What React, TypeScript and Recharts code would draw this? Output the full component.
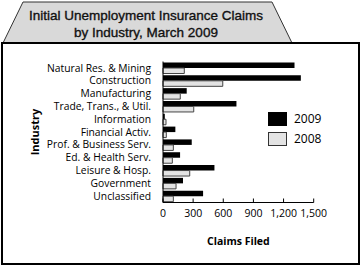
import React from "react";
import { BarChart, Bar, XAxis, YAxis, Label } from "recharts";

const categories = [
  "Natural Res. & Mining",
  "Construction",
  "Manufacturing",
  "Trade, Trans., & Util.",
  "Information",
  "Financial Activ.",
  "Prof. & Business Serv.",
  "Ed. & Health Serv.",
  "Leisure & Hosp.",
  "Government",
  "Unclassified",
];
const claims2009 = [1309, 1372, 236, 731, 18, 123, 286, 170, 512, 199, 399];
const claims2008 = [212, 595, 172, 306, 30, 33, 103, 93, 266, 130, 103];
const xTicks = [0, 300, 600, 900, 1200, 1500];

const data = categories.map((c, i) => ({ name: c, y2009: claims2009[i], y2008: claims2008[i] }));

const FONT = "'Open Sans', 'Noto Sans', sans-serif";

const XTick = (props: any) => {
  const { x, y, payload } = props;
  return (
    <g>
      <line x1={x} x2={x} y1={y} y2={y - 4} stroke="#000" strokeWidth={1} />
      <text x={x} y={y + 14} textAnchor="middle" fontSize={10.5} fontFamily={FONT} fill="#000">
        {payload.value.toLocaleString("en-US")}
      </text>
    </g>
  );
};

export default function App() {
  return (
    <div style={{ position: "absolute", left: 0, top: 0, width: 361, height: 266, background: "#fff" }}>
      <svg width={361} height={266} style={{ position: "absolute", left: 0, top: 0 }}>
        <polygon points="3,43 23,2 272,2 292,43" fill="#d9d9d9" stroke="#333" strokeWidth={1} />
        <rect x={2} y={43} width={357} height={221} fill="#fff" stroke="#000" strokeWidth={2} />
        <g fontSize={13.5} fontFamily="'Liberation Sans', Arial, sans-serif" fill="#111" stroke="#111" strokeWidth={0.35} textAnchor="middle">
          <text x={146} y={20}>Initial Unemployment Insurance Claims</text>
          <text x={146} y={37}>by Industry, March 2009</text>
        </g>
      </svg>
      <div style={{ position: "absolute", left: 0, top: 0 }}>
        <BarChart
          width={361}
          height={266}
          data={data}
          layout="vertical"
          margin={{ top: 61.5, right: 47.3, bottom: 33.5, left: 0 }}
          barGap={0}
          barSize={5.5}
        >
          <XAxis
            type="number"
            domain={[0, 1500]}
            ticks={xTicks}
            interval={0}
            tickLine={false}
            tickSize={0}
            tickMargin={0}
            tick={<XTick />}
            axisLine={{ stroke: "#000", strokeWidth: 1 }}
            height={30}
          >
            <Label
              value="Claims Filed"
              position="insideBottom"
              offset={-12}
              style={{ fontFamily: FONT, fontSize: 10.5, fontWeight: 700, fill: "#000" }}
            />
          </XAxis>
          <YAxis
            type="category"
            dataKey="name"
            width={163}
            tickLine={false}
            tickMargin={6}
            interval={0}
            axisLine={{ stroke: "#000", strokeWidth: 1 }}
            tick={{ fontFamily: FONT, fontSize: 10.3, fill: "#000" }}
          >
            <Label
              value="Industry"
              angle={-90}
              position="insideLeft"
              offset={35}
              style={{ fontFamily: FONT, fontSize: 11, fontWeight: 700, fill: "#000", textAnchor: "middle" }}
            />
          </YAxis>
          <Bar dataKey="y2009" fill="#000" isAnimationActive={false} />
          <Bar dataKey="y2008" fill="#e3e3e3" stroke="#444" strokeWidth={1} isAnimationActive={false} />
        </BarChart>
      </div>
      <div style={{ position: "absolute", left: 268, top: 109, fontFamily: FONT, fontSize: 12, color: "#000" }}>
        <div style={{ display: "flex", alignItems: "center", height: 19 }}>
          <div style={{ width: 19, height: 14, background: "#000" }} />
          <span style={{ marginLeft: 7 }}>2009</span>
        </div>
        <div style={{ display: "flex", alignItems: "center", height: 19, marginTop: 1 }}>
          <div style={{ width: 17, height: 12, background: "#e3e3e3", border: "1px solid #333" }} />
          <span style={{ marginLeft: 7 }}>2008</span>
        </div>
      </div>
    </div>
  );
}
